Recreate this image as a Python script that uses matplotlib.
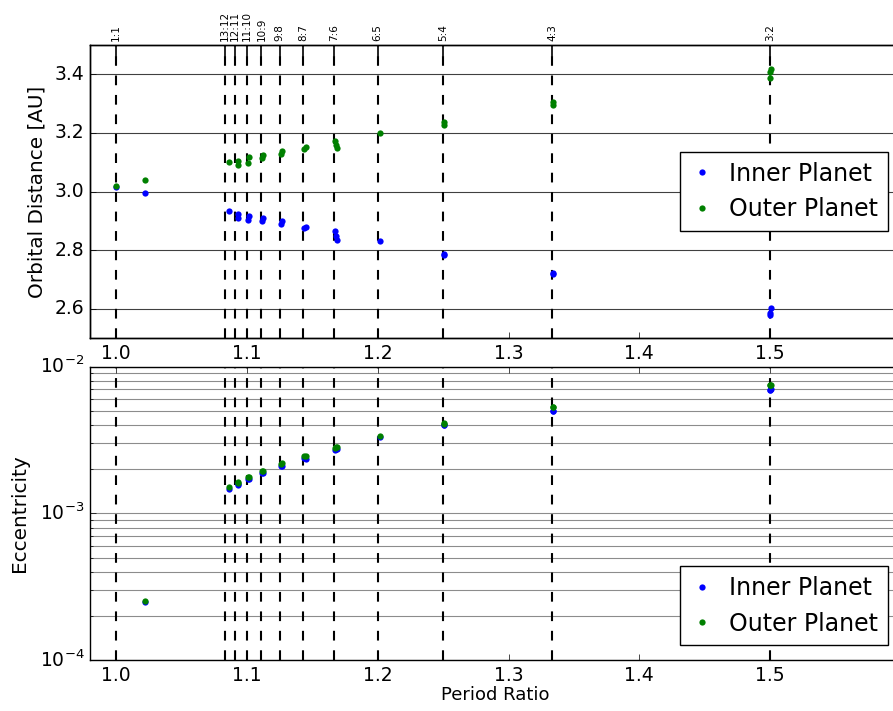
import matplotlib
matplotlib.use('Agg')
import matplotlib.pyplot as plt
from matplotlib.ticker import MultipleLocator, FixedLocator
import numpy as np

plt.style.use('classic')
plt.rcParams['figure.facecolor'] = 'white'
plt.rcParams['savefig.facecolor'] = 'white'
plt.rcParams['xtick.labelsize'] = 13.5
plt.rcParams['ytick.labelsize'] = 13.5

# resonance locations marked with dashed lines
res_ratios = [1.0, 13/12, 12/11, 11/10, 10/9, 9/8, 8/7, 7/6, 6/5, 5/4, 4/3, 3/2]
res_labels = ['1:1', '13:12', '12:11', '11:10', '10:9', '9:8', '8:7', '7:6', '6:5', '5:4', '4:3', '3:2']
x_ticks = [1.0, 1.1, 1.2, 1.3, 1.4, 1.5]

period_ratio = [1.000, 1.022, 1.0864, 1.0932, 1.0935, 1.1015, 1.1008, 1.1125, 1.1118,
                1.1265, 1.1260, 1.1448, 1.1438, 1.1673, 1.1682, 1.1689, 1.2015,
                1.2508, 1.2505, 1.3342, 1.3338, 1.5004, 1.5000, 1.4998]
inner_a = [3.015, 2.994, 2.935, 2.925, 2.910, 2.918, 2.904, 2.910, 2.898,
           2.898, 2.890, 2.878, 2.876, 2.864, 2.847, 2.835, 2.830,
           2.788, 2.784, 2.722, 2.718, 2.601, 2.584, 2.578]
outer_a = [3.018, 3.038, 3.1005, 3.104, 3.090, 3.118, 3.098, 3.125, 3.113,
           3.138, 3.129, 3.152, 3.144, 3.173, 3.160, 3.148, 3.199,
           3.238, 3.227, 3.305, 3.295, 3.418, 3.407, 3.387]
inner_e = [np.nan, 2.50e-4, 1.47e-3, 1.56e-3, 1.58e-3, 1.72e-3, 1.71e-3, 1.90e-3, 1.89e-3,
           2.12e-3, 2.11e-3, 2.36e-3, 2.38e-3, 2.72e-3, 2.73e-3, 2.74e-3, 3.30e-3,
           4.00e-3, 3.98e-3, 5.00e-3, 4.98e-3, 7.00e-3, 6.95e-3, 6.98e-3]
outer_e = [np.nan, 2.53e-4, 1.52e-3, 1.61e-3, 1.63e-3, 1.78e-3, 1.77e-3, 1.95e-3, 1.94e-3,
           2.19e-3, 2.18e-3, 2.47e-3, 2.45e-3, 2.81e-3, 2.82e-3, 2.83e-3, 3.38e-3,
           4.11e-3, 4.09e-3, 5.33e-3, 5.30e-3, 7.50e-3, 7.45e-3, 7.48e-3]

fig = plt.figure(figsize=(8.93, 7.11), dpi=100)
ax1 = fig.add_axes([0.1008, 0.5246, 0.908, 0.412])
ax2 = fig.add_axes([0.1008, 0.0717, 0.908, 0.4125])

dash = (0, (7, 7))
for ax in (ax1, ax2):
    for r in res_ratios:
        ax.axvline(r, color='k', linestyle=dash, linewidth=1.5, zorder=1)

legend_kw = dict(numpoints=1, fontsize=17, fancybox=False, borderaxespad=0,
                 handlelength=1.1, handletextpad=0.6)

ax1.plot(period_ratio, inner_a, 'o', color='b', markersize=4.5, markeredgewidth=0, label='Inner Planet', zorder=3)
ax1.plot(period_ratio, outer_a, 'o', color='g', markersize=4.5, markeredgewidth=0, label='Outer Planet', zorder=3)
ax1.set_xlim(0.98, 1.6)
ax1.set_ylim(2.5, 3.5)
ax1.yaxis.set_major_locator(MultipleLocator(0.2))
ax1.xaxis.set_major_locator(FixedLocator(x_ticks))
ax1.grid(True, axis='y', color='k', linestyle='-', linewidth=0.8, alpha=0.75)
ax1.grid(False, axis='x')
ax1.set_ylabel('Orbital Distance [AU]', fontsize=14.4, labelpad=6)
ax1.legend(loc='center right', bbox_to_anchor=(0.984, 0.5), **legend_kw)

top = ax1.twiny()
top.set_xlim(ax1.get_xlim())
top.set_xticks(res_ratios)
top.set_xticklabels(res_labels, rotation=90, fontsize=7.5)
top.tick_params(axis='x', direction='in', length=8, width=1.2, pad=3)

ax2.plot(period_ratio, inner_e, 'o', color='b', markersize=4.5, markeredgewidth=0, label='Inner Planet', zorder=3)
ax2.plot(period_ratio, outer_e, 'o', color='g', markersize=4.5, markeredgewidth=0, label='Outer Planet', zorder=3)
ax2.set_yscale('log')
ax2.set_xlim(0.98, 1.6)
ax2.set_ylim(1e-4, 1e-2)
ax2.xaxis.set_major_locator(FixedLocator(x_ticks))
ax2.grid(True, which='both', axis='y', color='k', linestyle='-', linewidth=0.8, alpha=0.45)
ax2.grid(False, axis='x')
ax2.set_ylabel('Eccentricity', fontsize=14.4, labelpad=8)
ax2.set_xlabel('Period Ratio', fontsize=13, labelpad=1)
ax2.legend(loc='lower right', bbox_to_anchor=(0.984, 0.051), **legend_kw)

fig.savefig('out.png', dpi=100)
